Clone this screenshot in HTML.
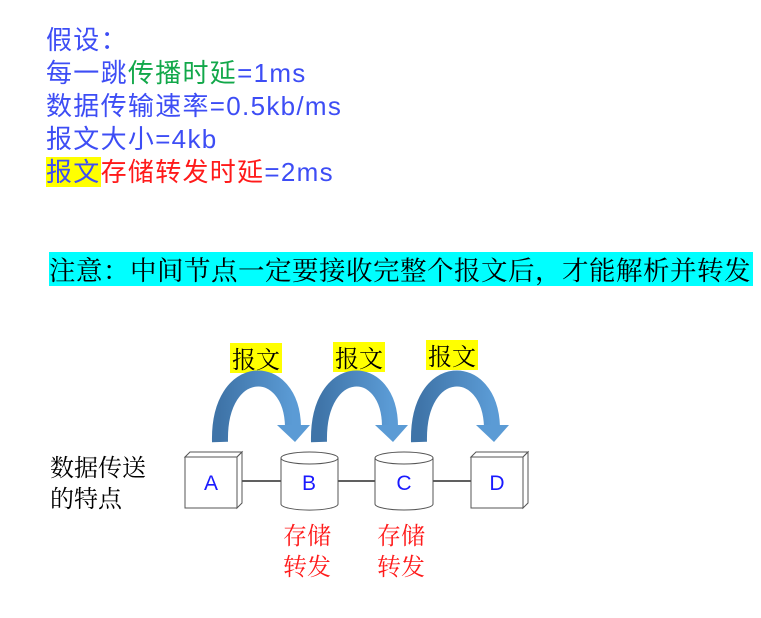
<!DOCTYPE html>
<html><head><meta charset="utf-8"><style>
body{margin:0;width:761px;height:618px;background:#fff;position:relative;overflow:hidden;font-family:"Liberation Sans","Noto Sans CJK SC",sans-serif}
.t{position:absolute;left:46px;font-size:26px;color:#3d4df5;line-height:32px;white-space:nowrap;letter-spacing:1.3px}
.g{color:#12a84a}.r{color:#ff1a1a}.y{background:#ffff00}
.bar{position:absolute;left:49px;top:252px;width:704px;height:34px;background:#00ffff;font-family:"Noto Serif CJK SC",serif;font-size:26.5px;line-height:34px;color:#000;white-space:nowrap;letter-spacing:0.5px}
.lab{position:absolute;font-family:"Noto Serif CJK SC",serif;font-size:24px;line-height:30px;background:#ffff00;color:#000;padding:0 2px}
.cj{position:absolute;font-family:"Noto Serif CJK SC",serif;font-size:24px;line-height:31px}
</style></head><body>
<div class="t" style="top:24px">假设：</div>
<div class="t" style="top:57px">每一跳<span class="g">传播时延</span>=1ms</div>
<div class="t" style="top:90px">数据传输速率=0.5kb/ms</div>
<div class="t" style="top:123px">报文大小=4kb</div>
<div class="t" style="top:156px"><span class="y">报文</span><span class="r">存储转发时延</span>=2ms</div>
<div class="bar">注意：中间节点一定要接收完整个报文后，才能解析并转发</div>
<div class="lab" style="left:230px;top:343px">报文</div>
<div class="lab" style="left:333px;top:342px">报文</div>
<div class="lab" style="left:426px;top:340px">报文</div>
<div class="cj" style="left:50px;top:450px">数据传送<br>的特点</div>
<div class="cj" style="left:283px;top:518px;color:#ff1a1a">存储<br>转发</div>
<div class="cj" style="left:377px;top:518px;color:#ff1a1a">存储<br>转发</div>
<svg width="761" height="618" style="position:absolute;left:0;top:0">
<defs><linearGradient id="a" x1="0" x2="1"><stop offset="0" stop-color="#3f74a8"/><stop offset="1" stop-color="#5b9bd5"/></linearGradient></defs>
<g fill="none" stroke="url(#a)" stroke-width="16">
<path d="M220,442 C218,360 292,360 293,427"/>
<path d="M319,442 C317,360 390,360 390,427"/>
<path d="M419,442 C417,360 490,360 492,427"/>
</g>
<g fill="#5b9bd5">
<polygon points="277,425 310,425 295,442"/>
<polygon points="375,425 408,425 393,442"/>
<polygon points="476,425 509,425 494,442"/>
</g>
<g stroke="#000" stroke-width="1.3"><line x1="242" y1="481" x2="281" y2="481"/><line x1="338" y1="481" x2="376" y2="481"/><line x1="433" y1="481" x2="471" y2="481"/></g>
<g stroke="#555" stroke-width="1" fill="#fff">
<polygon points="185,457 190,452 242,452 237,457"/><polygon points="237,457 242,452 242,503 237,508"/><rect x="185" y="457" width="52" height="51"/>
<polygon points="471,457 476,452 528,452 523,457"/><polygon points="523,457 528,452 528,503 523,508"/><rect x="471" y="457" width="52" height="51"/>
<path d="M281,458 V504 A28,6 0 0 0 338,504 V458"/><ellipse cx="309.5" cy="458" rx="28.5" ry="6"/>
<path d="M375,458 V504 A29,6 0 0 0 433,504 V458"/><ellipse cx="404" cy="458" rx="29" ry="6"/>
</g>
<g font-family="Liberation Sans" font-size="21" fill="#1a1aff" text-anchor="middle">
<text x="211" y="490">A</text><text x="309" y="490">B</text><text x="404" y="490">C</text><text x="497" y="490">D</text>
</g>
</svg>
</body></html>
